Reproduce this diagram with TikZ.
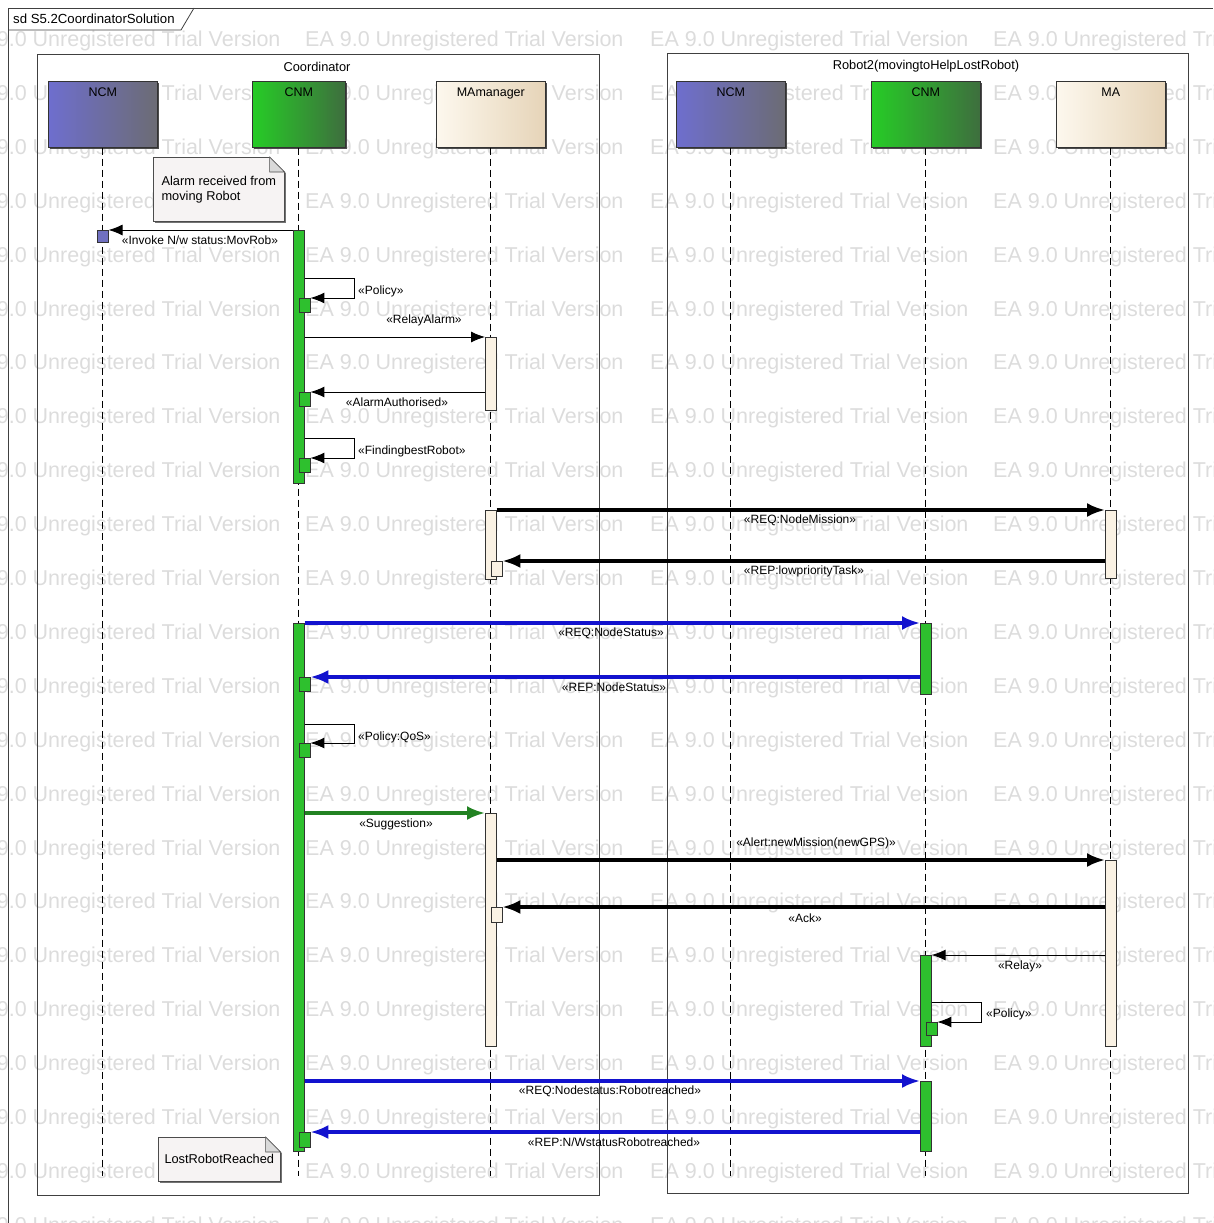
\documentclass[tikz,border=0pt]{standalone}
\usepackage{fontspec}
\setmainfont{Liberation Sans}
\usepackage{tikz}
\usetikzlibrary{arrows.meta,positioning,shadows}
\definecolor{ncmblue}{RGB}{110,110,206}
\definecolor{ncmgray}{RGB}{108,108,116}
\definecolor{cnmgreen}{RGB}{38,204,38}
\definecolor{cnmdark}{RGB}{62,110,62}
\definecolor{malight}{RGB}{253,248,238}
\definecolor{matan}{RGB}{230,212,184}
\definecolor{actgreen}{RGB}{46,192,46}
\definecolor{actcream}{RGB}{250,242,228}
\definecolor{actblue}{RGB}{112,112,192}
\definecolor{msgblue}{RGB}{18,18,206}
\definecolor{msggreen}{RGB}{34,130,34}
\definecolor{notefill}{RGB}{246,243,243}
\definecolor{wmgray}{RGB}{220,220,220}

\begin{document}
\begin{tikzpicture}[x=1pt,y=-1pt,
  font=\fontsize{12}{14}\selectfont,
  wm/.style={text=wmgray,font=\fontsize{21.5}{24}\selectfont,anchor=west,inner sep=0pt},
  grp/.style={draw=black!75,line width=0.8pt},
  grplbl/.style={font=\fontsize{12.8}{15}\selectfont},
  head/.style={draw=black!80,line width=0.6pt,anchor=north west,minimum width=109pt,
    inner xsep=0pt,inner ysep=4pt,text height=11pt,text depth=47pt,font=\fontsize{12.5}{14}\selectfont,
    drop shadow={shadow xshift=2pt,shadow yshift=-2pt,fill=black!70,opacity=1}},
  ncm/.style={head,left color=ncmblue,right color=ncmgray},
  cnm/.style={head,left color=cnmgreen,right color=cnmdark},
  mah/.style={head,left color=malight,right color=matan},
  life/.style={line width=0.8pt,dash pattern=on 7pt off 4pt},
  act/.style={draw=black!80,line width=0.6pt,anchor=north,inner sep=0pt,minimum width=11pt},
  actg/.style={act,fill=actgreen},
  actc/.style={act,fill=actcream},
  sub/.style={act,anchor=north west,minimum height=14pt},
  note/.style={draw=black!70,fill=notefill,line width=0.6pt,align=left,anchor=north west,
    font=\fontsize{12.8}{15}\selectfont,
    drop shadow={shadow xshift=2pt,shadow yshift=-2pt,fill=black!55,opacity=1}},
  msg/.style={-{Latex[length=14pt,width=11pt]},line width=0.9pt},
  thk/.style={-{Latex[length=18pt,width=14pt]},line width=3.2pt},
  blu/.style={thk,draw=msgblue},
  grn/.style={thk,draw=msggreen},
  lbl/.style={inner sep=1pt}]
  \useasboundingbox (0,0) rectangle (1213,1223);
  % trial watermark
  \foreach \y [count=\r] in {41,94.9,...,1230}
    \foreach \x [count=\c] in {-38,305,650,993}
      \node[wm] (wm\r-\c) at (\x,\y) {EA 9.0 Unregistered Trial Version};

  % frames
  \draw[grp] (8,1223) -- (8,8) -- (1213,8);
  \node[anchor=west,inner sep=2pt,font=\fontsize{13.2}{15}\selectfont] (sdname) at (11,19) {sd S5.2CoordinatorSolution};
  \draw[grp] (8,30) -- (181,30) -- (194,8);
  \draw[grp] (37,54) rectangle (599,1195);
  \draw[grp] (667,53) rectangle (1188,1193);
  \node[grplbl] (coord) at (317,67) {Coordinator};
  \node[grplbl] (robot2) at (926,66) {Robot2(movingtoHelpLostRobot)};

  % lifelines
  \node[ncm] (ncmA) at (48,81) {NCM};
  \node[cnm,minimum width=93pt] (cnmA) at (252,81) {CNM};
  \node[mah] (mam) at (436,81) {MAmanager};
  \node[ncm] (ncmB) at (676,81) {NCM};
  \node[cnm] (cnmB) at (871,81) {CNM};
  \node[mah] (maH) at (1056,81) {MA};
  \coordinate (lend) at (0,1176);
  \foreach \h in {ncmA,cnmA,mam,ncmB,cnmB,maH}
    \draw[life] (\h.south) -- (\h.south |- lend);

  % notes
  \node[note,minimum width=131pt,minimum height=64pt] (nAlarm) at (153,157) {Alarm received from\\moving Robot};
  \node[note,minimum width=122pt,minimum height=44pt] (nLost) at (158,1137) {LostRobotReached};
  \foreach \n in {nAlarm,nLost}{
    \fill[white] ([xshift=-15pt]\n.north east) -- ([xshift=-15pt,yshift=1.5pt]\n.north east)
      -- ([xshift=3pt,yshift=1.5pt]\n.north east) -- ([xshift=3pt,yshift=-17pt]\n.north east)
      -- ([yshift=-15pt]\n.north east) -- cycle;
    \draw[black!70,line width=0.6pt,fill=black!15] ([xshift=-15pt]\n.north east)
      -- ([xshift=-15pt,yshift=-15pt]\n.north east) -- ([yshift=-15pt]\n.north east) -- cycle;
  }

  % activations
  \node[act,fill=actblue,minimum height=12pt] (ncmSq) at (ncmA.south |- 0,230) {};
  \node[actg,minimum height=253pt] (cA1) at (cnmA.south |- 0,230) {};
  \node[sub,fill=actgreen] (sP1) at (cA1.north |- 0,298) {};
  \node[actc,minimum height=73pt] (mA1) at (mam.south |- 0,337) {};
  \node[sub,fill=actgreen] (sP2) at (cA1.north |- 0,392) {};
  \node[sub,fill=actgreen] (sP3) at (cA1.north |- 0,458) {};
  \node[actc,minimum height=69pt] (mA2) at (mam.south |- 0,510) {};
  \node[sub,fill=actcream,minimum height=15pt] (sM2) at (mA2.north |- 0,561) {};
  \node[actc,minimum height=68pt] (maA1) at (maH.south |- 0,510) {};
  \node[actg,minimum height=528pt] (cA2) at (cnmA.south |- 0,623) {};
  \node[actg,minimum height=71pt] (rA1) at (cnmB.south |- 0,623) {};
  \node[sub,fill=actgreen] (sP4) at (cA2.north |- 0,677) {};
  \node[sub,fill=actgreen] (sP5) at (cA2.north |- 0,743) {};
  \node[actc,minimum height=233pt] (mA3) at (mam.south |- 0,813) {};
  \node[actc,minimum height=186pt] (maA2) at (maH.south |- 0,860) {};
  \node[sub,fill=actcream,minimum height=15pt] (sM3) at (mA3.north |- 0,907) {};
  \node[actg,minimum height=91pt] (rA2) at (cnmB.south |- 0,955) {};
  \node[sub,fill=actgreen,minimum height=13pt] (sR1) at (rA2.north |- 0,1022) {};
  \node[actg,minimum height=70pt] (rA3) at (cnmB.south |- 0,1081) {};
  \node[sub,fill=actgreen,minimum height=15pt] (sP6) at (cA2.north |- 0,1132) {};

  % messages
  \draw[msg] (cA1.north west) -- (ncmSq.north east);
  \draw[msg] (cA1.east |- sP1.north) ++(0,-20) -- ++(50,0) |- (sP1.north east);
  \draw[msg] (cA1.east |- mA1.north) -- (mA1.north west);
  \draw[msg] (mA1.west |- sP2.north) -- (sP2.north east);
  \draw[msg] (cA1.east |- sP3.north) ++(0,-20) -- ++(50,0) |- (sP3.north east);
  \draw[thk] (mA2.north east) -- (maA1.north west);
  \draw[thk] (maA1.west |- sM2.north) -- (sM2.north east);
  \draw[blu] (cA2.north east) -- (rA1.north west);
  \draw[blu] (rA1.west |- sP4.north) -- (sP4.north east);
  \draw[msg] (cA2.east |- sP5.north) ++(0,-19) -- ++(50,0) |- (sP5.north east);
  \draw[grn] (cA2.east |- mA3.north) -- (mA3.north west);
  \draw[thk] (mA3.east |- maA2.north) -- (maA2.north west);
  \draw[thk] (maA2.west |- sM3.north) -- (sM3.north east);
  \draw[msg] (maA2.west |- rA2.north) -- (rA2.north east);
  \draw[msg] (rA2.east |- sR1.north) ++(0,-20) -- ++(50,0) |- (sR1.north east);
  \draw[blu] (cA2.east |- rA3.north) -- (rA3.north west);
  \draw[blu] (rA3.west |- sP6.north) -- (sP6.north east);

  % message labels
  \node[lbl] (lInvoke) at (200,240) {«Invoke N/w status:MovRob»};
  \node[lbl,anchor=west] (lPol1) at (357,291) {«Policy»};
  \node[lbl] (lRelay) at (424,320) {«RelayAlarm»};
  \node[lbl] (lAuth) at (397,402) {«AlarmAuthorised»};
  \node[lbl,anchor=west] (lFind) at (357,451) {«FindingbestRobot»};
  \node[lbl] (lReqMis) at (800,520) {«REQ:NodeMission»};
  \node[lbl] (lRepLow) at (804,571) {«REP:lowpriorityTask»};
  \node[lbl] (lReqSt) at (611,633) {«REQ:NodeStatus»};
  \node[lbl] (lRepSt) at (614,687) {«REP:NodeStatus»};
  \node[lbl,anchor=west] (lQos) at (357,737) {«Policy:QoS»};
  \node[lbl] (lSugg) at (396,824) {«Suggestion»};
  \node[lbl] (lAlert) at (816,843) {«Alert:newMission(newGPS)»};
  \node[lbl] (lAck) at (805,918) {«Ack»};
  \node[lbl] (lRelay2) at (1020,966) {«Relay»};
  \node[lbl,anchor=west] (lPol2) at (985,1014) {«Policy»};
  \node[lbl] (lReqRob) at (610,1091) {«REQ:Nodestatus:Robotreached»};
  \node[lbl] (lRepRob) at (614,1142) {«REP:N/WstatusRobotreached»};
\end{tikzpicture}
\end{document}
